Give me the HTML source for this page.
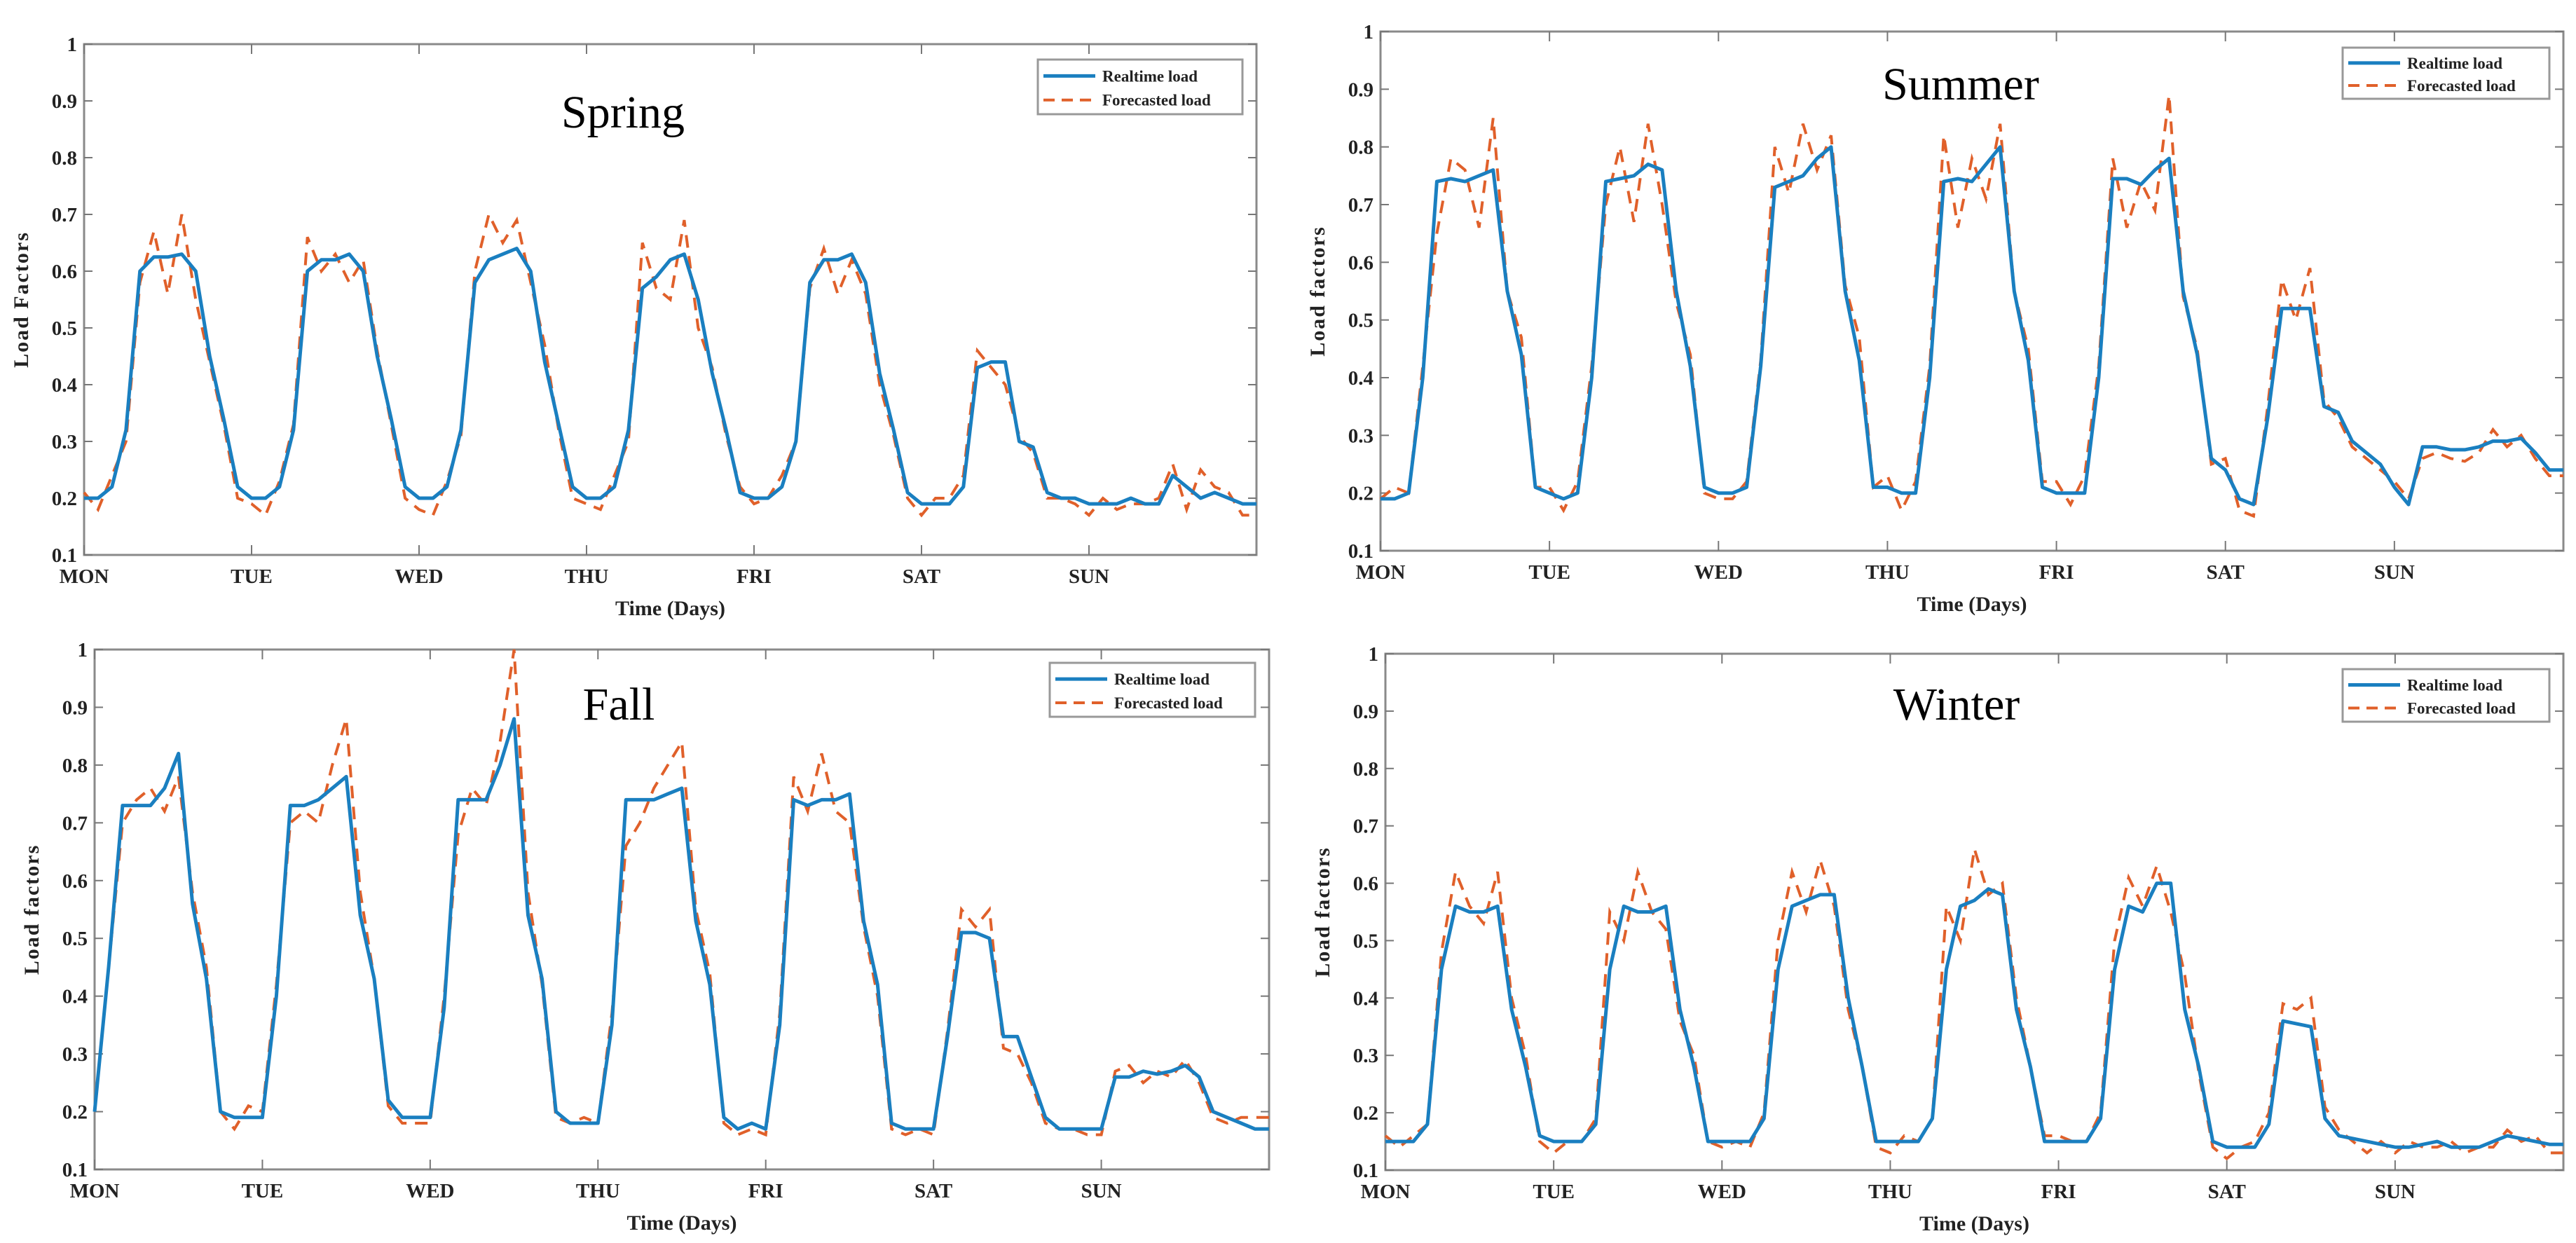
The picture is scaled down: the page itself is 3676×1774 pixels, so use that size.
<!DOCTYPE html>
<html><head><meta charset="utf-8">
<style>
html,body{margin:0;padding:0;background:#fff;}
svg{display:block;}
</style></head>
<body>
<svg id="fig" width="3676" height="1774" viewBox="0 0 3676 1774" xmlns="http://www.w3.org/2000/svg"></svg>
<script>
const dayLabels = ["MON","TUE","WED","THU","FRI","SAT","SUN"];
const yTicks = [0.1,0.2,0.3,0.4,0.5,0.6,0.7,0.8,0.9,1];
const yTickLabels = ["0.1","0.2","0.3","0.4","0.5","0.6","0.7","0.8","0.9","1"];

const springReal = [.20,.20,.22,.32,.60,.625,.625,.63,.60,.45,.34,.22, .20,.20,.22,.32,.60,.62,.62,.63,.60,.45,.34,.22, .20,.20,.22,.32,.58,.62,.63,.64,.60,.44,.33,.22, .20,.20,.22,.32,.57,.59,.62,.63,.55,.42,.32,.21, .20,.20,.22,.30,.58,.62,.62,.63,.58,.42,.32,.21, .19,.19,.19,.22,.43,.44,.44,.30,.29,.21,.20,.20, .19,.19,.19,.20,.19,.19,.24,.22,.20,.21,.20,.19,.19];
const springFcst = [.21,.18,.24,.30,.58,.67,.56,.70,.55,.44,.33,.20, .19,.17,.23,.33,.66,.60,.63,.58,.62,.46,.33,.20, .18,.17,.23,.31,.60,.70,.65,.69,.58,.47,.32,.20, .19,.18,.24,.30,.65,.57,.55,.69,.50,.43,.31,.22, .19,.20,.24,.30,.57,.64,.56,.62,.56,.40,.31,.20, .17,.20,.20,.24,.46,.43,.40,.31,.28,.20,.20,.19, .17,.20,.18,.19,.19,.20,.26,.18,.25,.22,.21,.17,.17];
const summerReal = [.19,.19,.20,.40,.74,.745,.74,.75,.76,.55,.44,.21, .20,.19,.20,.40,.74,.745,.75,.77,.76,.55,.42,.21, .20,.20,.21,.42,.73,.74,.75,.78,.80,.55,.43,.21, .21,.20,.20,.40,.74,.745,.74,.77,.80,.55,.43,.21, .20,.20,.20,.40,.745,.745,.735,.76,.78,.55,.44,.26, .24,.19,.18,.33,.52,.52,.52,.35,.34,.29,.27,.25, .21,.18,.28,.28,.275,.275,.28,.29,.29,.295,.27,.24,.24];
const summerFcst = [.19,.21,.20,.42,.65,.78,.76,.66,.85,.55,.47,.21, .21,.17,.22,.42,.70,.80,.67,.84,.70,.53,.44,.20, .19,.19,.22,.43,.80,.72,.84,.76,.82,.56,.47,.21, .23,.17,.22,.42,.82,.66,.78,.71,.84,.55,.45,.22, .22,.18,.23,.42,.78,.66,.74,.69,.89,.54,.45,.25, .26,.17,.16,.35,.57,.50,.59,.36,.33,.28,.26,.24, .22,.19,.26,.27,.26,.255,.27,.31,.28,.30,.26,.23,.23];
const fallReal = [.20,.45,.73,.73,.73,.76,.82,.56,.43,.20,.19,.19, .19,.40,.73,.73,.74,.76,.78,.54,.43,.22,.19,.19, .19,.38,.74,.74,.74,.80,.88,.54,.43,.20,.18,.18, .18,.35,.74,.74,.74,.75,.76,.53,.42,.19,.17,.18, .17,.35,.74,.73,.74,.74,.75,.53,.42,.18,.17,.17, .17,.33,.51,.51,.50,.33,.33,.26,.19,.17,.17,.17, .17,.26,.26,.27,.265,.27,.28,.26,.20,.19,.18,.17,.17];
const fallFcst = [.20,.45,.70,.74,.76,.72,.78,.58,.45,.20,.17,.21, .20,.42,.70,.72,.70,.80,.88,.58,.43,.21,.18,.18, .18,.40,.68,.76,.73,.84,1.0,.58,.42,.19,.18,.19, .18,.37,.66,.70,.76,.80,.84,.55,.44,.18,.16,.17, .16,.37,.78,.72,.82,.72,.70,.52,.40,.17,.16,.17, .16,.34,.55,.52,.55,.31,.30,.25,.18,.17,.17,.16, .16,.27,.28,.25,.27,.26,.29,.25,.19,.18,.19,.19,.19];
const winterReal = [.15,.15,.15,.18,.45,.56,.55,.55,.56,.38,.28,.16, .15,.15,.15,.18,.45,.56,.55,.55,.56,.38,.28,.15, .15,.15,.15,.19,.45,.56,.57,.58,.58,.40,.28,.15, .15,.15,.15,.19,.45,.56,.57,.59,.58,.38,.28,.15, .15,.15,.15,.19,.45,.56,.55,.60,.60,.38,.28,.15, .14,.14,.14,.18,.36,.355,.35,.19,.16,.155,.15,.145, .14,.14,.145,.15,.14,.14,.14,.15,.16,.155,.15,.145,.145];
const winterFcst = [.16,.14,.16,.18,.48,.62,.56,.53,.62,.40,.30,.15, .13,.15,.15,.19,.55,.50,.62,.55,.52,.36,.30,.15, .14,.15,.14,.20,.50,.62,.55,.64,.56,.38,.28,.14, .13,.16,.15,.19,.56,.50,.66,.58,.60,.40,.28,.16, .16,.15,.15,.20,.50,.61,.56,.63,.55,.44,.27,.14, .12,.14,.15,.20,.39,.38,.40,.21,.17,.15,.13,.15, .13,.15,.14,.14,.15,.13,.14,.14,.17,.15,.16,.13,.13];

const NS = "http://www.w3.org/2000/svg";
const svg = document.getElementById('fig');
function mk(tag, attrs, parent){
  const e = document.createElementNS(NS, tag);
  for (const k in attrs) e.setAttribute(k, attrs[k]);
  (parent||svg).appendChild(e);
  return e;
}
const BLUE = "#1a7fc0", ORANGE = "#e0602a";
const panels = [
  {key:"spring", title:"Spring", ylab:"Load Factors", L:120, R:1793, T:63, B:792, tx:889, ty:160, lg:[1481,85,292,78], real:springReal, fc:springFcst},
  {key:"summer", title:"Summer", ylab:"Load factors", L:1970, R:3658, T:45, B:786, tx:2798, ty:120, lg:[3343,68,295,73], real:summerReal, fc:summerFcst},
  {key:"fall", title:"Fall", ylab:"Load factors", L:135, R:1811, T:927, B:1669, tx:883, ty:1005, lg:[1498,946,293,77], real:fallReal, fc:fallFcst},
  {key:"winter", title:"Winter", ylab:"Load factors", L:1977, R:3658, T:933, B:1670, tx:2792, ty:1005, lg:[3343,955,295,75], real:winterReal, fc:winterFcst}
];
panels.forEach(p => {
  const g = mk('g', {});
  
  
  const xs = d => p.L + (d/7)*(p.R-p.L);
  const ys = v => p.B - ((v-0.1)/0.9)*(p.B-p.T);
  const box = mk('rect', {x:p.L, y:p.T, width:p.R-p.L, height:p.B-p.T, fill:"#fff", stroke:"#8a8a8a", "stroke-width":3}, g);
  
  
  // y ticks
  yTicks.forEach((v,i) => {
    const y = ys(v);
    mk('line', {x1:p.L, x2:p.L+12, y1:y, y2:y, stroke:"#777", "stroke-width":2}, g);
    mk('line', {x1:p.R, x2:p.R-12, y1:y, y2:y, stroke:"#777", "stroke-width":2}, g);
    const t = mk('text', {x:p.L-10, y:y+10, "text-anchor":"end", "font-family":"Liberation Serif, serif", "font-weight":"bold", "font-size":29, fill:"#222"}, g);
    t.textContent = yTickLabels[i];
    
    
  });
  dayLabels.forEach((d,i) => {
    const x = xs(i);
    mk('line', {x1:x, x2:x, y1:p.B, y2:p.B-14, stroke:"#777", "stroke-width":2}, g);
    mk('line', {x1:x, x2:x, y1:p.T, y2:p.T+14, stroke:"#777", "stroke-width":2}, g);
    const t = mk('text', {x:x, y:p.B+40, "text-anchor":"middle", "font-family":"Liberation Serif, serif", "font-weight":"bold", "font-size":29, fill:"#222"}, g);
    t.textContent = d;
    
    
  });
  const xt = mk('text', {x:(p.L+p.R)/2, y:p.B+86, "text-anchor":"middle", "font-family":"Liberation Serif, serif", "font-weight":"bold", "font-size":30, fill:"#222"}, g);
  xt.textContent = "Time (Days)";
  
  
  const cy = (p.T+p.B)/2;
  const yt = mk('text', {x:p.L-80, y:cy, "text-anchor":"middle", transform:`rotate(-90 ${p.L-80} ${cy})`, "font-family":"Liberation Serif, serif", "font-weight":"bold", "font-size":30, fill:"#222", "letter-spacing":"2"}, g);
  yt.textContent = p.ylab;
  
  
  // series
  const n = p.real.length - 1;
  const pts = arr => arr.map((v,i) => xs(i*7/n).toFixed(1)+","+ys(v).toFixed(1)).join(" ");
  const fl = mk('polyline', {points:pts(p.fc), fill:"none", stroke:ORANGE, "stroke-width":4, "stroke-dasharray":"18 12"}, g);
  
  
  const rl = mk('polyline', {points:pts(p.real), fill:"none", stroke:BLUE, "stroke-width":5, "stroke-linejoin":"round"}, g);
  
  
  // title
  const tt = mk('text', {x:p.tx, y:p.ty+22, "text-anchor":"middle", "font-family":"Liberation Serif, serif", "font-size":66, fill:"#000"}, g);
  tt.textContent = p.title;
  
  
  // legend
  const [lx,ly,lw,lh] = p.lg;
  const lg = mk('g', {}, g);
  
  
  mk('rect', {x:lx, y:ly, width:lw, height:lh, fill:"#fff", stroke:"#999", "stroke-width":3}, lg);
  const r1 = ly + lh*0.3, r2 = ly + lh*0.74;
  mk('line', {x1:lx+8, x2:lx+82, y1:r1, y2:r1, stroke:BLUE, "stroke-width":5}, lg);
  mk('line', {x1:lx+8, x2:lx+82, y1:r2, y2:r2, stroke:ORANGE, "stroke-width":4, "stroke-dasharray":"16 10"}, lg);
  const e1 = mk('text', {x:lx+92, y:r1+8, "font-family":"Liberation Serif, serif", "font-weight":"bold", "font-size":23, fill:"#222"}, lg);
  e1.textContent = "Realtime load";
  
  
  const e2 = mk('text', {x:lx+92, y:r2+8, "font-family":"Liberation Serif, serif", "font-weight":"bold", "font-size":23, fill:"#222"}, lg);
  e2.textContent = "Forecasted load";
  
  
});
</script>
</body></html>
